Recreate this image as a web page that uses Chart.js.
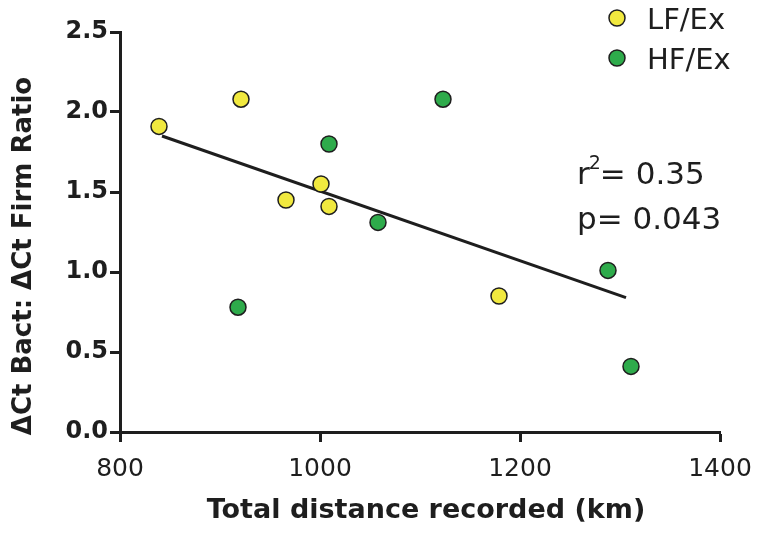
<!DOCTYPE html>
<html>
<head>
<meta charset="utf-8">
<script src="https://cdn.jsdelivr.net/npm/chart.js@4/dist/chart.umd.min.js"></script>
<style>
  html, body { margin: 0; padding: 0; background: #fff; }
  #wrap { width: 760px; height: 535px; }
</style>
</head>
<body>
<div id="wrap"><canvas id="chart" width="760" height="535"></canvas></div>
<script>
// data
var lfX = [839, 921, 966, 1001, 1009, 1179];
var lfY = [1.91, 2.08, 1.45, 1.55, 1.41, 0.85];
var hfX = [918, 1009, 1058, 1123, 1288, 1311];
var hfY = [0.78, 1.80, 1.31, 2.08, 1.01, 0.41];
var fitX = [842, 1306];
var fitY = [1.85, 0.84];
var xTicks = [800, 1000, 1200, 1400];
var yTicks = [0, 0.5, 1.0, 1.5, 2.0, 2.5];
var seriesNames = ["LF/Ex", "HF/Ex"];
var statsText = ["= 0.35", "p= 0.043"];
var xTitle = "Total distance recorded (km)";
var yTitle = "\u0394Ct Bact: \u0394Ct Firm Ratio";

var yellow = "#f1e93f";
var green = "#2eab4b";
var ink = "#1e1e1e";
var fam = "'DejaVu Sans', sans-serif";

function toPoints(xs, ys) {
    var pts = [];
    for (var i = 0; i < xs.length; i++) pts.push({x: xs[i], y: ys[i]});
    return pts;
}

// axis titles, legend and the r2/p text
var extras = {
    id: "extras",
    afterDraw: function(chart) {
        var ctx = chart.ctx;
        ctx.save();
        ctx.fillStyle = ink;

        // axis titles
        ctx.font = "bold 27px " + fam;
        ctx.textAlign = "center";
        ctx.textBaseline = "alphabetic";
        ctx.fillText(xTitle, 426, 518);
        ctx.save();
        ctx.translate(31, 256);
        ctx.rotate(-Math.PI / 2);
        ctx.font = "bold 26px " + fam;
        ctx.fillText(yTitle, 0, 0);
        ctx.restore();

        // legend
        var cols = [yellow, green];
        for (var i = 0; i < seriesNames.length; i++) {
            var cy = 18 + i * 40;
            ctx.beginPath();
            ctx.arc(617, cy, 8, 0, Math.PI * 2);
            ctx.fillStyle = cols[i];
            ctx.fill();
            ctx.lineWidth = 1.5;
            ctx.strokeStyle = ink;
            ctx.stroke();
            ctx.fillStyle = ink;
            ctx.font = "29px " + fam;
            ctx.textAlign = "left";
            ctx.textBaseline = "alphabetic";
            ctx.fillText(seriesNames[i], 647, cy + 11);
        }

        // r2 / p
        ctx.font = "31px " + fam;
        ctx.fillText("r", 577, 184);
        var rw = ctx.measureText("r").width;
        ctx.font = "19px " + fam;
        ctx.fillText("2", 577 + rw - 1, 169);
        var sw = ctx.measureText("2").width;
        ctx.font = "31px " + fam;
        ctx.fillText(statsText[0], 577 + rw + sw - 2, 184);
        ctx.fillText(statsText[1], 577, 229);
        ctx.restore();
    }
};

new Chart(document.getElementById("chart"), {
    type: "scatter",
    data: {
        datasets: [
            {
                label: "fit",
                type: "line",
                data: toPoints(fitX, fitY),
                borderColor: ink,
                borderWidth: 3,
                pointRadius: 0,
                showLine: true,
                fill: false,
                order: 2
            },
            {
                label: seriesNames[0],
                data: toPoints(lfX, lfY),
                backgroundColor: yellow,
                borderColor: ink,
                borderWidth: 1.5,
                pointRadius: 8,
                order: 1
            },
            {
                label: seriesNames[1],
                data: toPoints(hfX, hfY),
                backgroundColor: green,
                borderColor: ink,
                borderWidth: 1.5,
                pointRadius: 8,
                order: 1
            }
        ]
    },
    options: {
        responsive: false,
        animation: false,
        layout: { padding: { left: 0, right: 40, top: 32, bottom: 0 } },
        plugins: {
            legend: { display: false },
            tooltip: { enabled: false }
        },
        scales: {
            x: {
                type: "linear",
                min: 800,
                max: 1400,
                afterBuildTicks: function(axis) {
                    axis.ticks = xTicks.map(function(v) { return {value: v}; });
                },
                afterFit: function(axis) {
                    axis.height = 103;
                    axis.paddingLeft = 0;
                    axis.paddingRight = 0;
                },
                grid: {
                    drawOnChartArea: false,
                    drawTicks: true,
                    tickLength: 10,
                    tickWidth: 3,
                    tickColor: ink
                },
                border: { display: true, width: 3, color: ink },
                ticks: {
                    color: ink,
                    padding: 12,
                    maxRotation: 0,
                    callback: function(v) { return String(v); },
                    font: { family: fam, size: 25 }
                }
            },
            y: {
                type: "linear",
                min: 0,
                max: 2.5,
                afterBuildTicks: function(axis) {
                    axis.ticks = yTicks.map(function(v) { return {value: v}; });
                },
                afterFit: function(axis) {
                    axis.width = 120;
                    axis.paddingTop = 0;
                    axis.paddingBottom = 0;
                },
                grid: {
                    drawOnChartArea: false,
                    drawTicks: true,
                    tickLength: 10,
                    tickWidth: 3,
                    tickColor: ink
                },
                border: { display: true, width: 3, color: ink },
                ticks: {
                    color: ink,
                    padding: 2,
                    callback: function(v) { return v.toFixed(1); },
                    font: { family: fam, size: 24, weight: "bold" }
                }
            }
        }
    },
    plugins: [extras]
});
</script>
</body>
</html>
